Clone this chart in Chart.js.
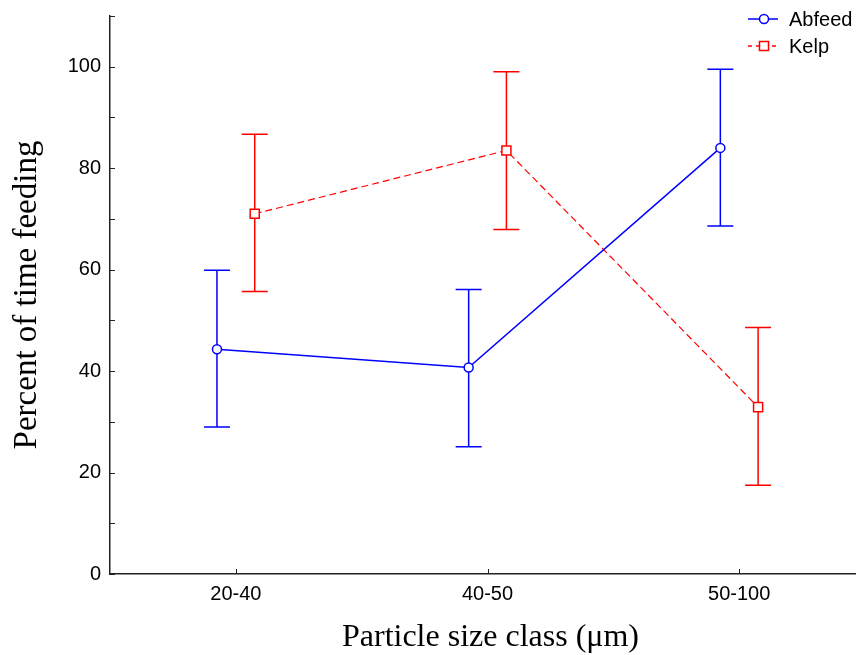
<!DOCTYPE html>
<html>
<head>
<meta charset="utf-8">
<script src="https://cdn.jsdelivr.net/npm/chart.js@4/dist/chart.umd.min.js"></script>
<style>
  html, body { margin: 0; padding: 0; background: #fff; }
  #wrap { width: 856px; height: 655px; position: relative; }
</style>
</head>
<body>
<div id="wrap"><canvas id="c" width="856" height="655"></canvas></div>
<script>
// Particle size classes on the x axis
const categories = ['20-40', '40-50', '50-100'];

// Mean percent of time feeding, with lower/upper error-bar ends
const abfeedMean = [44.3, 40.7, 84.0];
const abfeedLow  = [29.0, 25.1, 68.6];
const abfeedHigh = [59.9, 56.1, 99.5];

const kelpMean = [71.0, 83.5, 32.9];
const kelpLow  = [55.7, 67.9, 17.5];
const kelpHigh = [86.7, 99.0, 48.6];

const yTickLabels = [0, 20, 40, 60, 80, 100];

const X_TITLE = 'Particle size class (μm)';
const SERIF = '"Liberation Serif", "Times New Roman", serif';
const SANS = '"Liberation Sans", Arial, sans-serif';

// Series are dodged slightly left/right of each category position
const DODGE = 0.075;
function toPoints(values, shift) {
  return values.map((v, i) => ({ x: i + 1 + shift, y: v }));
}

const BLUE = '#0000ff';
const RED = '#ff0000';

// Vertical error bars with caps, drawn beneath the series markers
const errorBars = {
  id: 'errorBars',
  beforeDatasetsDraw(chart) {
    const { ctx, scales: { x, y } } = chart;
    ctx.save();
    chart.data.datasets.forEach(ds => {
      ctx.strokeStyle = ds.borderColor;
      ctx.lineWidth = 1.5;
      ctx.setLineDash([]);
      ds.data.forEach((p, i) => {
        const px = x.getPixelForValue(p.x);
        const top = y.getPixelForValue(ds.errHigh[i]);
        const bot = y.getPixelForValue(ds.errLow[i]);
        ctx.beginPath();
        ctx.moveTo(px, top); ctx.lineTo(px, bot);
        ctx.moveTo(px - 13, top); ctx.lineTo(px + 13, top);
        ctx.moveTo(px - 13, bot); ctx.lineTo(px + 13, bot);
        ctx.stroke();
      });
    });
    ctx.restore();
  }
};

// Short inward tick marks on both axes, plus the x axis title
const innerTicks = {
  id: 'innerTicks',
  afterDraw(chart) {
    const { ctx, scales: { x, y }, chartArea } = chart;
    ctx.save();
    ctx.strokeStyle = '#222';
    ctx.lineWidth = 1;
    ctx.beginPath();
    y.ticks.forEach(t => {
      const py = Math.round(y.getPixelForValue(t.value)) + 0.5;
      ctx.moveTo(chartArea.left, py); ctx.lineTo(chartArea.left + 5, py);
    });
    x.ticks.forEach(t => {
      const px = Math.round(x.getPixelForValue(t.value)) + 0.5;
      ctx.moveTo(px, chartArea.bottom); ctx.lineTo(px, chartArea.bottom - 5);
    });
    ctx.stroke();

    ctx.fillStyle = '#000';
    ctx.font = '32px ' + SERIF;
    ctx.textAlign = 'center';
    ctx.textBaseline = 'middle';
    ctx.fillText(X_TITLE, (chartArea.left + chartArea.right) / 2 + 8, chartArea.bottom + 64);
    ctx.restore();
  }
};

// Legend in the top-right corner: line sample with marker, then label
const cornerLegend = {
  id: 'cornerLegend',
  afterDraw(chart) {
    const { ctx } = chart;
    ctx.save();
    chart.data.datasets.forEach((ds, i) => {
      const yy = 19 + i * 27;
      const x0 = 748, x1 = 778, xm = 764;
      ctx.strokeStyle = ds.borderColor;
      ctx.lineWidth = 1.5;
      ctx.setLineDash(ds.borderDash ? [4, 4] : []);
      ctx.beginPath();
      ctx.moveTo(x0, yy); ctx.lineTo(x1, yy);
      ctx.stroke();
      ctx.setLineDash([]);
      ctx.fillStyle = '#fff';
      ctx.strokeStyle = ds.borderColor;
      ctx.beginPath();
      if (ds.pointStyle === 'rect') {
        const h = Math.SQRT1_2 * ds.pointRadius;
        ctx.rect(xm - h, yy - h, 2 * h, 2 * h);
      } else {
        ctx.arc(xm, yy, ds.pointRadius, 0, Math.PI * 2);
      }
      ctx.fill(); ctx.stroke();
      ctx.fillStyle = '#000';
      ctx.font = '20px ' + SANS;
      ctx.textBaseline = 'middle';
      ctx.textAlign = 'left';
      ctx.fillText(ds.label, 789, yy + 1);
    });
    ctx.restore();
  }
};

new Chart(document.getElementById('c'), {
  type: 'line',
  data: {
    datasets: [
      {
        label: 'Abfeed',
        data: toPoints(abfeedMean, -DODGE),
        errLow: abfeedLow,
        errHigh: abfeedHigh,
        borderColor: BLUE,
        backgroundColor: '#fff',
        borderWidth: 1.5,
        pointStyle: 'circle',
        pointRadius: 4.5,
        pointBorderWidth: 1.5,
        pointBackgroundColor: '#fff',
        pointBorderColor: BLUE,
        tension: 0,
        clip: false
      },
      {
        label: 'Kelp',
        data: toPoints(kelpMean, DODGE),
        errLow: kelpLow,
        errHigh: kelpHigh,
        borderColor: RED,
        backgroundColor: '#fff',
        borderWidth: 1.2,
        borderDash: [7, 4],
        pointStyle: 'rect',
        pointRadius: 6.4,
        pointBorderWidth: 1.5,
        pointBackgroundColor: '#fff',
        pointBorderColor: RED,
        tension: 0,
        clip: false
      }
    ]
  },
  options: {
    responsive: false,
    animation: false,
    events: [],
    layout: { autoPadding: false, padding: { top: 16, right: 1, left: 0, bottom: 0 } },
    plugins: { legend: { display: false }, tooltip: { enabled: false } },
    scales: {
      x: {
        type: 'linear',
        min: 0.5,
        max: 3.46,
        afterBuildTicks(scale) {
          scale.ticks = categories.map((c, i) => ({ value: i + 1 }));
        },
        afterFit(scale) {
          scale.height = 81;
          scale.paddingLeft = 0;
          scale.paddingRight = 0;
        },
        grid: { display: false, drawTicks: false },
        border: { display: true, color: '#222', width: 1.5 },
        ticks: {
          padding: 8,
          color: '#000',
          font: { family: SANS, size: 20 },
          callback: (v) => categories[Math.round(v) - 1]
        }
      },
      y: {
        min: 0,
        max: 110,
        afterBuildTicks(scale) {
          const t = [];
          for (let v = 0; v <= 110; v += 10) t.push({ value: v });
          scale.ticks = t;
        },
        afterFit(scale) {
          scale.width = 110;
          scale.paddingTop = 0;
          scale.paddingBottom = 0;
        },
        grid: { display: false, drawTicks: false },
        border: { display: true, color: '#222', width: 1.5 },
        ticks: {
          padding: 9,
          color: '#000',
          autoSkip: false,
          font: { family: SANS, size: 20 },
          callback: (v) => yTickLabels.includes(v) ? String(v) : ''
        },
        title: {
          display: true,
          text: 'Percent of time feeding',
          color: '#000',
          font: { family: SERIF, size: 33 },
          padding: { top: 8, bottom: 0 }
        }
      }
    }
  },
  plugins: [errorBars, innerTicks, cornerLegend]
});
</script>
</body>
</html>
